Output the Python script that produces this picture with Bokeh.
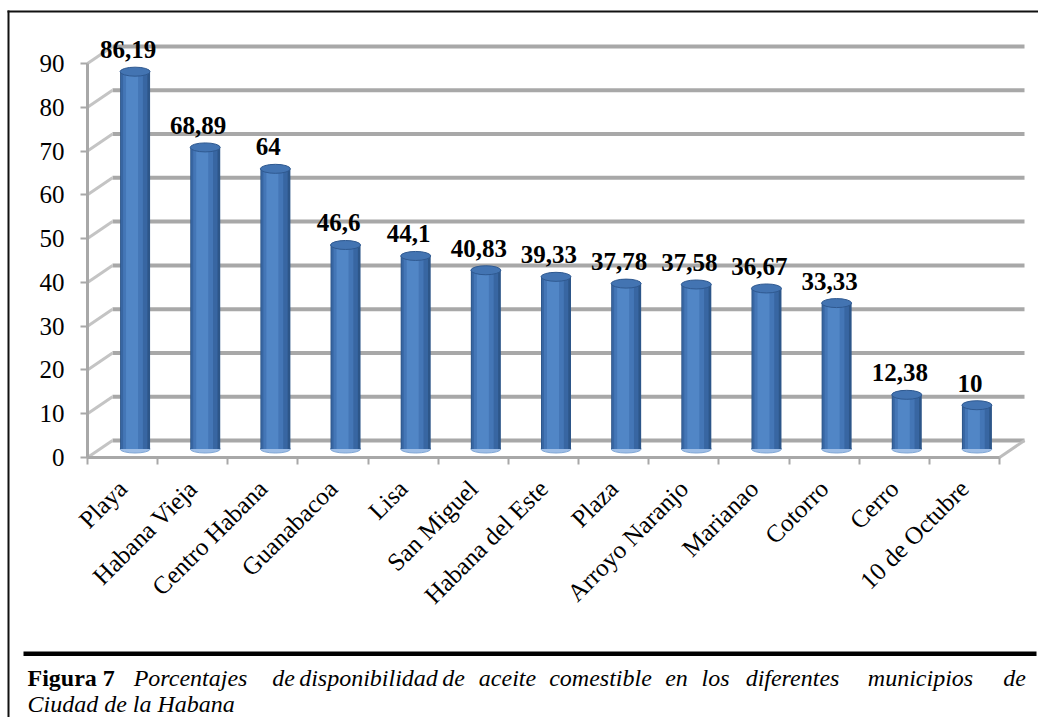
import numpy as np
from bokeh.plotting import figure
from bokeh.models import Range1d, FixedTicker, LinearAxis, ColumnDataSource
from bokeh.core.properties import value
from bokeh.transform import dodge
from bokeh.embed import file_html
from bokeh.resources import INLINE

# ---------------- data ----------------
municipios = ["Playa", "Habana Vieja", "Centro Habana", "Guanabacoa", "Lisa", "San Miguel",
              "Habana del Este", "Plaza", "Arroyo Naranjo", "Marianao", "Cotorro", "Cerro",
              "10 de Octubre"]
porcentajes = [86.19, 68.89, 64, 46.6, 44.1, 40.83, 39.33, 37.78, 37.58, 36.67, 33.33, 12.38, 10]
y_ticks = [0, 10, 20, 30, 40, 50, 60, 70, 80, 90]
caption_bold = "Figura 7"
caption_words = ["Porcentajes", "de", "disponibilidad", "de", "aceite", "comestible", "en",
                 "los", "diferentes", "municipios", "de"]
caption_line2 = "Ciudad de la Habana"

# ---------------- geometry (pixels) ----------------
W_TOT, H_TOT = 1038, 717
AX_L, AX_B = 87, 457                          # canvas position of the front axes
N = len(municipios)
PXX = (999 - 87) / N                          # pixels per category
PXY = (457 - 63) / 90.0                       # pixels per value unit
DX = 25 / PXX                                 # 3D depth offset (data units)
DY = 17 / PXY
BAR_W = 30 / PXX

FONT = "Liberation Serif"
GRID_COL = "#a8a8a8"

x0 = -0.5
x_start = x0 - AX_L / PXX
y_start = -(H_TOT - AX_B) / PXY
p = figure(width=W_TOT, height=H_TOT,
           x_range=Range1d(x_start, x_start + W_TOT / PXX),
           y_range=Range1d(y_start, y_start + H_TOT / PXY),
           x_axis_type=None, y_axis_type=None, min_border=0,
           output_backend="svg", toolbar_location=None)
p.outline_line_color = None
p.background_fill_color = "white"
p.border_fill_color = "white"

# pixel-identity ranges for page decorations (border, caption)
p.extra_x_ranges = {"px": Range1d(0, W_TOT)}
p.extra_y_ranges = {"py": Range1d(H_TOT, 0)}

# ---------------- 3D walls ----------------
yt = np.array(y_ticks, dtype=float)
back = ColumnDataSource(dict(x0=[x0 + DX] * len(yt), x1=[N - 0.5 + DX] * len(yt),
                             y=list(yt + DY)))
p.segment(x0="x0", y0="y", x1="x1", y1="y", source=back,
          line_color=GRID_COL, line_width=4)
side = ColumnDataSource(dict(x0=[x0] * len(yt), y0=list(yt),
                             x1=[x0 + DX] * len(yt), y1=list(yt + DY)))
p.segment(x0="x0", y0="y0", x1="x1", y1="y1", source=side,
          line_color="#c4c4c4", line_width=3)
p.segment(x0=[N - 0.5], y0=[0], x1=[N - 0.5 + DX], y1=[DY],
          line_color="#bdbdbd", line_width=3)

# ---------------- axes (fixed at the front edges) ----------------
yaxis = LinearAxis(ticker=FixedTicker(ticks=y_ticks), bounds=(0, 90), fixed_location=x0,
                   axis_line_color=GRID_COL, axis_line_width=3,
                   major_tick_line_color=GRID_COL, major_tick_line_width=2,
                   major_tick_in=0, major_tick_out=7,
                   minor_tick_line_color=None,
                   major_label_text_font=FONT, major_label_text_font_size="25px",
                   major_label_text_color="black", major_label_standoff=16)
p.add_layout(yaxis, "left")

centers = list(range(N))
bounds_ticks = [i - 0.5 for i in range(N + 1)]
xaxis = LinearAxis(ticker=FixedTicker(ticks=centers, minor_ticks=bounds_ticks),
                   bounds=(-0.5, N - 0.5), fixed_location=0,
                   major_label_overrides={i: m for i, m in enumerate(municipios)},
                   axis_line_color=GRID_COL, axis_line_width=3,
                   major_tick_line_color=None, major_tick_in=0, major_tick_out=0,
                   minor_tick_line_color=GRID_COL, minor_tick_line_width=2,
                   minor_tick_in=0, minor_tick_out=7,
                   major_label_orientation=np.pi / 4,
                   major_label_text_font=FONT, major_label_text_font_size="25px",
                   major_label_text_color="black", major_label_standoff=20)
p.add_layout(xaxis, "below")

# ---------------- cylinders ----------------
xc = np.array(centers, dtype=float) + DX / 2
bottom = DY / 2
tops = np.array(porcentajes, dtype=float) + DY / 2
src = ColumnDataSource(dict(x=list(xc), top=list(tops),
                            lab=[f"{v:g}".replace(".", ",") for v in porcentajes]))

p.ellipse(x="x", y=bottom, width=BAR_W, height=8, height_units="screen", source=src,
          fill_color="#9dbde6", line_color="#7fa6d6", line_width=1)
layers = [(0.0, 1.00, "#2d5689"), (-0.03, 0.88, "#3866a2"),
          (-0.07, 0.66, "#4476b6"), (-0.10, 0.40, "#5186c6")]
for off, frac, col in layers:
    p.vbar(x=dodge("x", off * BAR_W), width=BAR_W * frac, bottom=bottom, top="top",
           source=src, fill_color=col, line_color=None)
p.ellipse(x="x", y="top", width=BAR_W, height=9, height_units="screen", source=src,
          fill_color="#4374b2", line_color="#2f5990", line_width=1)

p.text(x=dodge("x", -0.1), y="top", text="lab", source=src,
       text_align="center", text_baseline="middle", y_offset=-22,
       text_font=value(FONT), text_font_style="bold", text_font_size="25px",
       text_color="black")

# ---------------- page border & caption ----------------
p.segment(x0=[8, 7], y0=[10, 11], x1=[8, W_TOT], y1=[H_TOT, 11],
          x_range_name="px", y_range_name="py", line_color="#111111", line_width=2)
p.quad(left=[23], right=[1036], top=[651], bottom=[655.5],
       x_range_name="px", y_range_name="py", fill_color="black", line_color=None)

p.text(x=[27], y=[677], text=[caption_bold], x_range_name="px", y_range_name="py",
       text_font=value(FONT), text_font_style="bold", text_font_size="24px",
       text_baseline="alphabetic", text_align="left", text_color="black")
word_cx = [190, 283, 368, 453, 507, 600, 676, 715, 792, 920, 1014]
p.text(x=word_cx, y=[677] * len(caption_words), text=caption_words,
       x_range_name="px", y_range_name="py",
       text_font=value(FONT), text_font_style="italic", text_font_size="24px",
       text_baseline="alphabetic", text_align="center", text_color="black")
p.text(x=[27], y=[703], text=[caption_line2], x_range_name="px", y_range_name="py",
       text_font=value(FONT), text_font_style="italic", text_font_size="24px",
       text_baseline="alphabetic", text_align="left", text_color="black")

open("out.html", "w").write(file_html(p, INLINE))
